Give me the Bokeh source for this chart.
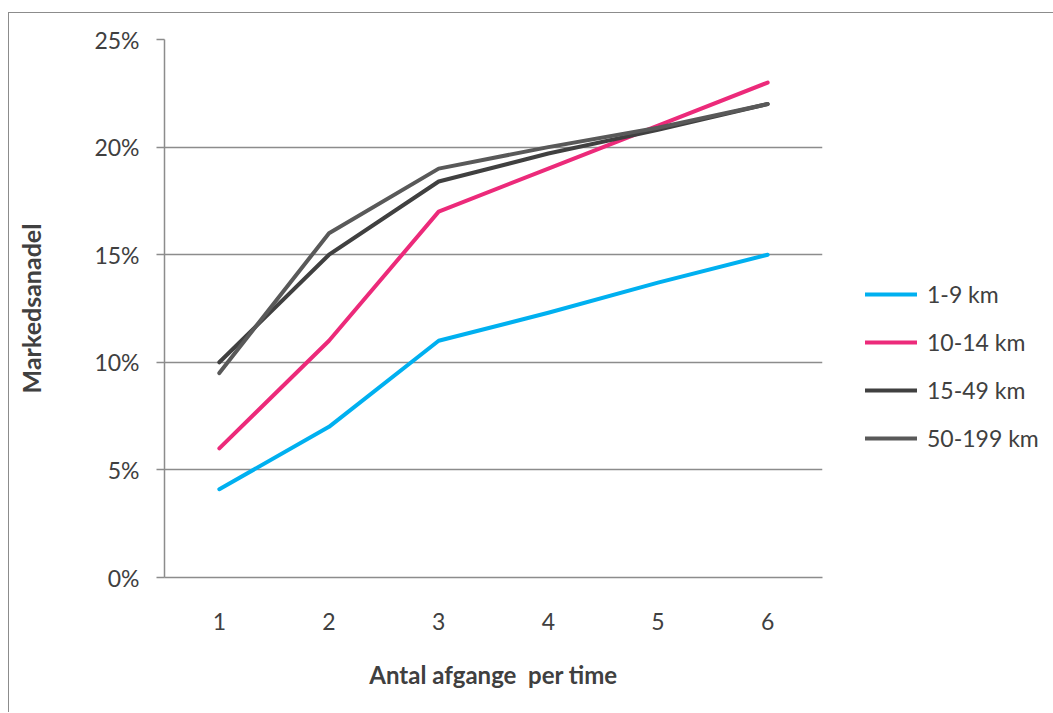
from bokeh.plotting import figure
from bokeh.models import (Legend, LegendItem, FixedTicker, PrintfTickFormatter,
                          Range1d)
from bokeh.embed import file_html
from bokeh.resources import INLINE

departures = [1, 2, 3, 4, 5, 6]
km_1_9 = [4.1, 7.0, 11.0, 12.3, 13.7, 15.0]
km_10_14 = [6.0, 11.0, 17.0, 19.0, 21.0, 23.0]
km_15_49 = [10.0, 15.0, 18.4, 19.7, 20.8, 22.0]
km_50_199 = [9.5, 16.0, 19.0, 20.0, 20.9, 22.0]
series_names = ["1-9 km", "10-14 km", "15-49 km", "50-199 km"]
y_ticks = [0, 5, 10, 15, 20, 25]

colors = ["#00B0F0", "#EC2A7A", "#404040", "#595959"]
FONT = "Lato"
GRID = "#8c8c8c"
TXT = "#404040"

p = figure(frame_width=658, frame_height=538, output_backend="svg",
           toolbar_location=None,
           x_range=Range1d(0.5, 6.5), y_range=Range1d(0, 25),
           min_border_left=155, min_border_right=200,
           min_border_top=26, min_border_bottom=135)
p.styles = {"margin-left": "8px", "margin-top": "12px",
            "border-left": "1.5px solid #8c8c8c",
            "border-top": "1.5px solid #8c8c8c"}
p.outline_line_color = None
p.background_fill_color = "white"
p.border_fill_color = "white"

renderers = []
for ys, c in zip([km_1_9, km_10_14, km_15_49, km_50_199], colors):
    r = p.line(departures, ys, line_color=c, line_width=4, line_cap="round",
               line_join="round")
    renderers.append(r)

p.xaxis.ticker = FixedTicker(ticks=departures)
p.yaxis.ticker = FixedTicker(ticks=y_ticks)
p.yaxis.formatter = PrintfTickFormatter(format="%d%%")
for ax in (p.xaxis[0], p.yaxis[0]):
    ax.axis_line_color = GRID
    ax.axis_line_width = 1.5
    ax.major_tick_line_color = GRID
    ax.major_tick_line_width = 1.5
    ax.minor_tick_line_color = None
    ax.major_label_text_font = FONT
    ax.major_label_text_font_size = "23px"
    ax.major_label_text_color = TXT
    ax.axis_label_text_font = FONT
    ax.axis_label_text_font_style = "bold"
    ax.axis_label_text_color = TXT

p.xaxis.axis_label_text_font_size = "24px"
p.yaxis.axis_label_text_font_size = "25px"

p.xaxis.major_tick_out = 0
p.xaxis.major_tick_in = 0
p.xaxis.major_label_standoff = 35
p.xaxis.axis_label = "Antal afgange\u00a0 per time"
p.xaxis.axis_label_standoff = 27

p.yaxis.major_tick_out = 8
p.yaxis.major_tick_in = 0
p.yaxis.major_label_standoff = 17
p.yaxis.axis_label = "Markedsanadel"
p.yaxis.axis_label_standoff = 45

p.xgrid.grid_line_color = None
p.ygrid.ticker = FixedTicker(ticks=y_ticks)
p.ygrid.grid_line_color = GRID
p.ygrid.grid_line_width = 1.5

legend = Legend(items=[LegendItem(label=n, renderers=[r]) for n, r in zip(series_names, renderers)],
                location=(43, 125))
legend.border_line_color = None
legend.background_fill_alpha = 0
legend.label_text_font = FONT
legend.label_text_font_size = "23px"
legend.label_text_color = TXT
legend.glyph_width = 52
legend.glyph_height = 22
legend.label_height = 22
legend.spacing = 20
legend.label_standoff = 10
legend.padding = 8
p.add_layout(legend, "right")

open("out.html", "w").write(file_html(p, INLINE))
